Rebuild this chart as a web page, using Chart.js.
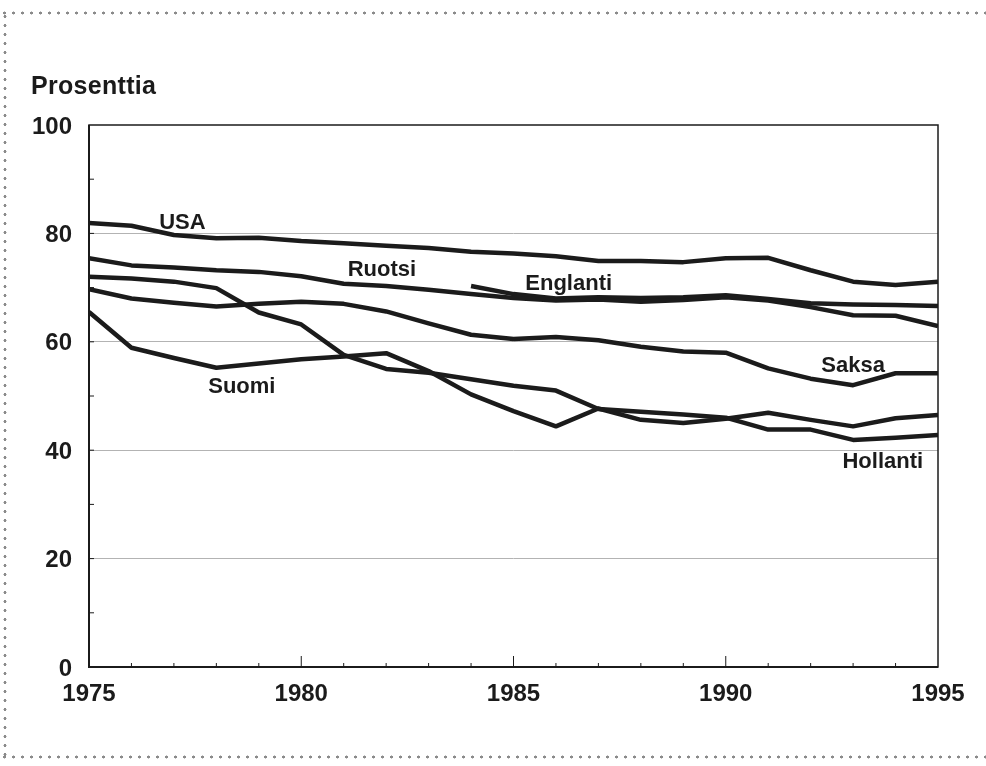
<!DOCTYPE html>
<html>
<head>
<meta charset="utf-8">
<script src="https://cdn.jsdelivr.net/npm/chart.js@4.4.1/dist/chart.umd.min.js"></script>
<style>
  html, body { margin: 0; padding: 0; background: #fff; }
  #wrap { position: relative; width: 986px; height: 766px; overflow: hidden; }
  #chart { position: absolute; left: 0; top: 0; }
  .unit {
    position: absolute; left: 31px; top: 73px;
    font: bold 25px "Liberation Sans", Arial, sans-serif;
    line-height: 25px; letter-spacing: 0.3px; color: #1b1b1b;
  }
  .dots-h {
    position: absolute; left: 0; width: 986px; height: 4px;
    background: radial-gradient(circle, #8a8a8a 1.2px, transparent 1.8px) 0 0 / 9px 4px repeat-x;
  }
  .dots-v {
    position: absolute; left: 3px; width: 4px; top: 12px; height: 746px;
    background: radial-gradient(circle, #8a8a8a 1.2px, transparent 1.8px) 0 0 / 4px 9px repeat-y;
  }
</style>
</head>
<body>
<div id="wrap">
  <canvas id="chart" width="986" height="766"></canvas>
  <div class="dots-h" style="top:11px"></div>
  <div class="dots-h" style="top:755px"></div>
  <div class="dots-v"></div>
  <div class="unit">Prosenttia</div>
</div>
<script>
const years = [1975, 1976, 1977, 1978, 1979, 1980, 1981, 1982, 1983, 1984, 1985,
  1986, 1987, 1988, 1989, 1990, 1991, 1992, 1993, 1994, 1995];
const englantiYears = [1984, 1985, 1986, 1987, 1988, 1989, 1990, 1991, 1992, 1993, 1994, 1995];

const usa = [81.9, 81.4, 79.7, 79.1, 79.2, 78.6, 78.2, 77.7, 77.3, 76.6, 76.3,
  75.8, 74.9, 74.9, 74.7, 75.4, 75.5, 73.2, 71.1, 70.5, 71.1];
const ruotsi = [75.4, 74.1, 73.7, 73.2, 72.9, 72.1, 70.7, 70.3, 69.6, 68.8, 68.1,
  67.6, 67.8, 67.4, 67.7, 68.2, 67.6, 66.4, 64.9, 64.8, 62.9];
const englanti = [70.3, 68.8, 68.0, 68.2, 68.1, 68.2, 68.6, 67.9, 67.1, 66.9, 66.8, 66.6];
const hollanti = [72.0, 71.7, 71.1, 69.9, 65.4, 63.2, 57.6, 55.0, 54.3, 53.1, 51.9,
  51.0, 47.6, 47.1, 46.6, 46.0, 43.8, 43.8, 41.9, 42.3, 42.8];
const saksa = [69.7, 68.0, 67.2, 66.5, 67.0, 67.4, 67.0, 65.6, 63.4, 61.3, 60.5,
  60.9, 60.3, 59.1, 58.2, 58.0, 55.1, 53.2, 52.0, 54.2, 54.2];
const suomi = [65.5, 58.9, 57.0, 55.2, 56.0, 56.8, 57.3, 57.9, 54.6, 50.3, 47.2,
  44.4, 47.7, 45.6, 45.0, 45.8, 46.9, 45.6, 44.4, 45.9, 46.5];

// series names written inside the plot, at (year, percent)
const seriesLabels = [
  { text: "USA", x: 1977.2, y: 81.9 },
  { text: "Ruotsi", x: 1981.9, y: 73.2 },
  { text: "Englanti", x: 1986.3, y: 70.7 },
  { text: "Saksa", x: 1993.0, y: 55.5 },
  { text: "Suomi", x: 1978.6, y: 51.7 },
  { text: "Hollanti", x: 1993.7, y: 37.8 },
];

const INK = "#1b1b1b";
const FONT = '"Liberation Sans", Arial, sans-serif';

function points(xs, ys) {
  return ys.map((v, i) => ({ x: xs[i], y: v }));
}

function series(label, xs, ys) {
  return {
    label,
    data: points(xs, ys),
    borderColor: INK,
    borderWidth: 4.5,
    pointRadius: 0,
    tension: 0,
    borderJoinStyle: "round",
    fill: false,
  };
}

const framePlugin = {
  id: "frame",
  beforeDatasetsDraw(chart) {
    const { ctx, chartArea: a, scales: { x, y } } = chart;
    ctx.save();
    ctx.strokeStyle = INK;
    ctx.lineWidth = 1.5;
    ctx.strokeRect(a.left, a.top, a.right - a.left, a.bottom - a.top);
    ctx.lineWidth = 2;
    ctx.beginPath();
    ctx.moveTo(a.left, a.top);
    ctx.lineTo(a.left, a.bottom);
    ctx.lineTo(a.right, a.bottom);
    ctx.stroke();

    ctx.lineWidth = 1;
    for (let v = 10; v < 100; v += 10) {
      const py = y.getPixelForValue(v);
      ctx.beginPath();
      ctx.moveTo(a.left, py);
      ctx.lineTo(a.left + 5, py);
      ctx.stroke();
    }
    for (let yr = 1976; yr < 1995; yr++) {
      const px = x.getPixelForValue(yr);
      const len = yr % 5 === 0 ? 11 : 4;
      ctx.beginPath();
      ctx.moveTo(px, a.bottom);
      ctx.lineTo(px, a.bottom - len);
      ctx.stroke();
    }
    ctx.restore();
  },
  afterDatasetsDraw(chart) {
    const { ctx, scales: { x, y } } = chart;
    ctx.save();
    ctx.fillStyle = INK;
    ctx.font = "bold 22px " + FONT;
    ctx.textAlign = "center";
    ctx.textBaseline = "middle";
    seriesLabels.forEach((l) => {
      ctx.fillText(l.text, x.getPixelForValue(l.x), y.getPixelForValue(l.y));
    });
    ctx.restore();
  },
};

new Chart(document.getElementById("chart"), {
  type: "line",
  data: {
    datasets: [
      series("USA", years, usa),
      series("Ruotsi", years, ruotsi),
      series("Englanti", englantiYears, englanti),
      series("Hollanti", years, hollanti),
      series("Saksa", years, saksa),
      series("Suomi", years, suomi),
    ],
  },
  options: {
    responsive: false,
    animation: false,
    layout: { padding: { left: 0, right: 48, top: 125, bottom: 0 } },
    plugins: { legend: { display: false }, tooltip: { enabled: false } },
    scales: {
      x: {
        type: "linear",
        min: 1975,
        max: 1995,
        afterFit: (scale) => { scale.height = 99; },
        grid: { display: false },
        border: { display: false },
        ticks: {
          stepSize: 5,
          padding: 5,
          color: INK,
          font: { family: FONT, size: 24, weight: "bold" },
          callback: (v) => String(v),
        },
      },
      y: {
        min: 0,
        max: 100,
        afterFit: (scale) => { scale.width = 89; },
        grid: {
          drawTicks: false,
          lineWidth: 1,
          color: (c) => (c.tick && (c.tick.value === 0 || c.tick.value === 100) ? "rgba(0,0,0,0)" : "#b3b3b3"),
        },
        border: { display: false },
        ticks: {
          stepSize: 20,
          padding: 17,
          labelOffset: 2,
          color: INK,
          font: { family: FONT, size: 24, weight: "bold" },
        },
      },
    },
  },
  plugins: [framePlugin],
});
</script>
</body>
</html>
